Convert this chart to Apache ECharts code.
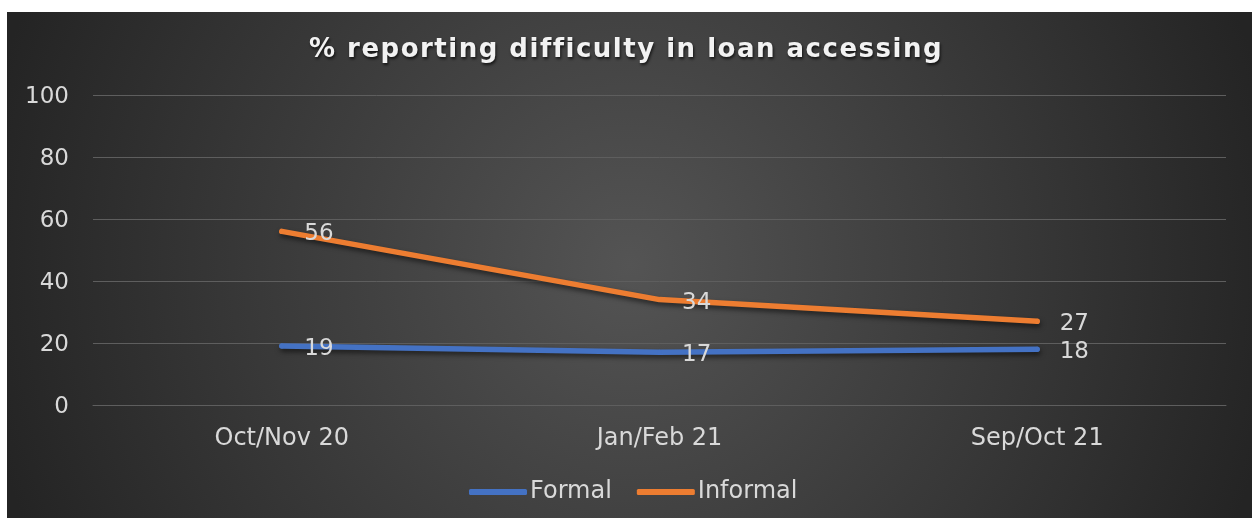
<!DOCTYPE html>
<html>
<head>
<meta charset="utf-8">
<script src="https://cdn.jsdelivr.net/npm/echarts@6/dist/echarts.min.js"></script>
<style>
html,body{margin:0;padding:0;background:#fff;}
#c{width:1252px;height:518px;}
</style>
</head>
<body>
<div id="c"></div>
<script>
var titleText = '% reporting difficulty in loan accessing';
var categories = ['Oct/Nov 20', 'Jan/Feb 21', 'Sep/Oct 21'];
var formal = [19, 17, 18];
var informal = [56, 34, 27];
var seriesNames = ['Formal', 'Informal'];
var yTicks = { min: 0, max: 100, interval: 20 };

// letter spacing for the (bold, 26px) title text only
(function () {
  var P = CanvasRenderingContext2D.prototype;
  var orig = P.fillText;
  P.fillText = function () {
    if ('letterSpacing' in this && /bold/.test(this.font) && /26px/.test(this.font)) {
      var o = this.letterSpacing;
      this.letterSpacing = '1.5px';
      var r = orig.apply(this, arguments);
      this.letterSpacing = o;
      return r;
    }
    return orig.apply(this, arguments);
  };
})();

var txt = '#d9d9d9';
var font = 'DejaVu Sans, Verdana, sans-serif';
var chart = echarts.init(document.getElementById('c'), null, { renderer: 'canvas' });

function mkSeries(name, data, color) {
  return {
    name: name,
    type: 'line',
    data: data,
    symbol: 'circle',
    symbolSize: 5,
    itemStyle: { color: color },
    lineStyle: {
      width: 5.5, color: color, cap: 'round', join: 'round',
      shadowColor: 'rgba(0,0,0,0.55)', shadowBlur: 5, shadowOffsetX: 1, shadowOffsetY: 3
    },
    label: {
      show: true, position: 'right', distance: 20, offset: [0, 3],
      color: txt, fontSize: 23, fontFamily: font
    },
    emphasis: { disabled: true },
    animation: false
  };
}

chart.setOption({
  backgroundColor: '#ffffff',
  animation: false,
  graphic: [{
    type: 'rect', z: -10, silent: true,
    shape: { x: 7, y: 12, width: 1245, height: 506 },
    style: {
      fill: {
        type: 'radial', x: 0.5, y: 0.5, r: 1.3,
        colorStops: [
          { offset: 0, color: '#545454' },
          { offset: 1, color: '#242424' }
        ]
      }
    }
  }],
  title: {
    text: titleText,
    left: 'center',
    top: 32,
    textStyle: {
      color: '#f2f2f2', fontSize: 26, fontWeight: 'bold', fontFamily: font,
      textShadowColor: 'rgba(0,0,0,0.7)', textShadowBlur: 3, textShadowOffsetX: 1, textShadowOffsetY: 2
    }
  },
  legend: {
    data: seriesNames,
    bottom: 9,
    left: 464,
    icon: 'roundRect',
    itemWidth: 58,
    itemHeight: 6,
    itemGap: 25,
    textStyle: { color: txt, fontSize: 24, fontFamily: font, padding: [4, 0, 0, -2] }
  },
  grid: { left: 93, right: 26, top: 95, bottom: 113, containLabel: false },
  xAxis: {
    type: 'category',
    data: categories,
    boundaryGap: true,
    axisLine: { show: true, lineStyle: { color: '#5e5e5e', width: 1 } },
    axisTick: { show: false },
    axisLabel: { color: txt, fontSize: 24, fontFamily: font, margin: 22 }
  },
  yAxis: {
    type: 'value',
    min: yTicks.min, max: yTicks.max, interval: yTicks.interval,
    axisLine: { show: false },
    axisTick: { show: false },
    splitLine: { lineStyle: { color: '#5e5e5e', width: 1 } },
    axisLabel: { color: txt, fontSize: 23, fontFamily: font, margin: 24, verticalAlign: 'top', lineHeight: 5 }
  },
  series: [
    mkSeries(seriesNames[0], formal, '#4472C4'),
    mkSeries(seriesNames[1], informal, '#ED7D31')
  ]
});
</script>
</body>
</html>
